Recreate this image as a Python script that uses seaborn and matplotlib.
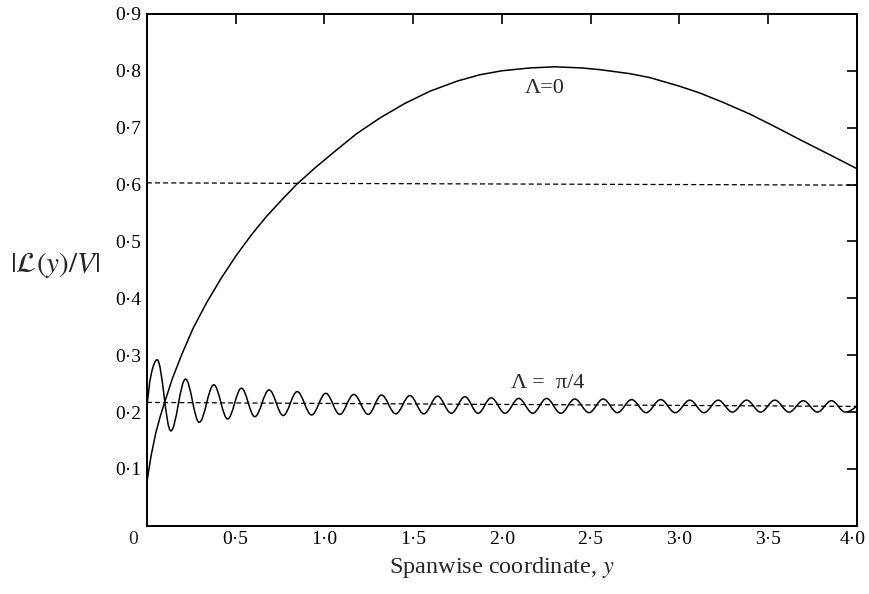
import matplotlib
matplotlib.use('Agg')
import matplotlib.pyplot as plt
import matplotlib.transforms as mtransforms
from matplotlib.path import Path
from matplotlib.patches import PathPatch
import seaborn as sns
import pandas as pd

# Lambda = 0 curve
span_zero = [0.0, 0.01, 0.025, 0.05, 0.075, 0.10, 0.145, 0.195, 0.26, 0.336, 0.42, 0.505,
             0.59, 0.674, 0.76, 0.843, 0.95, 1.05, 1.18, 1.313, 1.45, 1.594, 1.75, 1.876,
             2.0, 2.158, 2.3, 2.45, 2.552, 2.72, 2.834, 3.0, 3.115, 3.25, 3.397, 3.55,
             3.679, 3.85, 4.0]
lift_zero = [0.075, 0.097, 0.125, 0.163, 0.192, 0.217, 0.26, 0.30, 0.347, 0.392, 0.436, 0.476,
             0.512, 0.544, 0.573, 0.60, 0.63, 0.656, 0.689, 0.717, 0.742, 0.764, 0.782, 0.793,
             0.800, 0.805, 0.807, 0.805, 0.802, 0.795, 0.788, 0.773, 0.761, 0.744, 0.724, 0.700,
             0.679, 0.652, 0.628]

# Lambda = pi/4 curve: start, crests, troughs, end
quarter_start = (0.0, 0.20)
quarter_end = (4.0, 0.211)
crest_x = [0.058, 0.218, 0.377, 0.533, 0.689, 0.847, 1.008, 1.166, 1.322, 1.482, 1.638,
           1.792, 1.940, 2.095, 2.252, 2.411, 2.571, 2.731, 2.895, 3.059, 3.219, 3.379,
           3.538, 3.698, 3.857]
crest_y = [0.292, 0.258, 0.248, 0.242, 0.239, 0.236, 0.233, 0.231, 0.230, 0.229, 0.228,
           0.227, 0.225, 0.224, 0.224, 0.223, 0.223, 0.222, 0.222, 0.221, 0.221, 0.221,
           0.221, 0.220, 0.220]
trough_x = [0.135, 0.295, 0.455, 0.608, 0.768, 0.928, 1.087, 1.247, 1.402, 1.560, 1.715,
            1.866, 2.018, 2.174, 2.332, 2.491, 2.651, 2.813, 2.977, 3.139, 3.299, 3.458,
            3.618, 3.778, 3.935]
trough_y = [0.167, 0.182, 0.188, 0.192, 0.194, 0.195, 0.196, 0.196, 0.197, 0.197, 0.198,
            0.198, 0.198, 0.198, 0.198, 0.199, 0.199, 0.199, 0.199, 0.199, 0.200, 0.200,
            0.200, 0.200, 0.200]

# dashed mean levels (end points)
mean_x = [0.0, 4.0]
mean_zero = [0.603, 0.599]
mean_quarter = [0.217, 0.210]

xticks = [0, 0.5, 1.0, 1.5, 2.0, 2.5, 3.0, 3.5, 4.0]
xticklabels = ['', '0·5', '1·0', '1·5', '2·0', '2·5', '3·0', '3·5', '4·0']
yticks = [0.1, 0.2, 0.3, 0.4, 0.5, 0.6, 0.7, 0.8, 0.9]
yticklabels = ['0·1', '0·2', '0·3', '0·4', '0·5', '0·6', '0·7', '0·8', '0·9']

sns.set_style('white')
plt.rcParams['font.family'] = ['Liberation Serif', 'DejaVu Serif']
plt.rcParams['mathtext.fontset'] = 'stix'

fig = plt.figure(figsize=(8.69, 5.94), dpi=100)
ax = fig.add_axes([0.169, 0.1147, 0.817, 0.8619])

df_zero = pd.DataFrame({'y': span_zero, 'L': lift_zero})
sns.lineplot(data=df_zero, x='y', y='L', ax=ax, color='black', lw=1.1, sort=False)
sns.lineplot(x=mean_x, y=mean_zero, ax=ax, color='black', lw=0.9, linestyle=(0, (4, 2.5)))
sns.lineplot(x=mean_x, y=mean_quarter, ax=ax, color='black', lw=0.9, linestyle=(0, (4, 2.5)))

# smooth oscillating curve through crests and troughs (bezier segments)
knots = [quarter_start]
for cx, cy, tx, ty in zip(crest_x, crest_y, trough_x, trough_y):
    knots.append((cx, cy))
    knots.append((tx, ty))
knots.append(quarter_end)
verts = [knots[0]]
codes = [Path.MOVETO]
for i in range(1, len(knots)):
    x0, y0 = knots[i - 1]
    x1, y1 = knots[i]
    dx = x1 - x0
    if i == 1:
        c1 = (x0 + 0.15 * dx, y0 + 0.6 * (y1 - y0))
    else:
        c1 = (x0 + 0.36 * dx, y0)
    if i == len(knots) - 1:
        c2 = (x1 - 0.3 * dx, y1 - 0.5 * (y1 - y0))
    else:
        c2 = (x1 - 0.36 * dx, y1)
    verts += [c1, c2, (x1, y1)]
    codes += [Path.CURVE4] * 3
ax.add_patch(PathPatch(Path(verts, codes), fill=False, ec='black', lw=1.1))

ax.text(2.24, 0.769, 'Λ=0', fontsize=16, ha='center', va='center')
ax.text(2.256, 0.2506, 'Λ =  π/4', fontsize=16, ha='center', va='center')

ax.set_xlim(0, 4.0)
ax.set_ylim(0, 0.9)
ax.set_xticks(xticks)
ax.set_xticklabels(xticklabels, fontsize=14)
ax.set_yticks(yticks)
ax.set_yticklabels(yticklabels, fontsize=14)
ax.tick_params(direction='in', length=7, width=1.2, top=True, right=True,
               labeltop=False, labelright=False, pad=4, colors='black')
for s in ax.spines.values():
    s.set_linewidth(1.4)
    s.set_color('black')

# last x label sits inside the figure edge
last = ax.get_xticklabels()[-1]
last.set_horizontalalignment('right')
last.set_transform(last.get_transform()
                   + mtransforms.ScaledTranslation(9 / 100, 0, fig.dpi_scale_trans))

# shared origin label
shift = mtransforms.ScaledTranslation(-14 / 100, -14 / 100, fig.dpi_scale_trans)
ax.text(0, 0, '0', transform=ax.transData + shift, fontsize=14, ha='center', va='center')

ax.set_xlabel('Spanwise coordinate, $y$', fontsize=17.5, labelpad=5)
ax.set_ylabel(r'$|\mathcal{L}(y)/V|$', fontsize=21, rotation=0, ha='center', va='center')
ax.yaxis.set_label_coords(-0.13, 0.51)

fig.savefig('out.png', dpi=100)
